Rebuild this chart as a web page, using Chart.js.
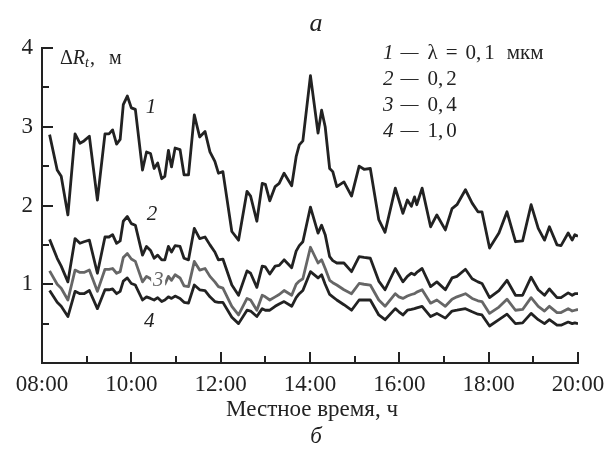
<!DOCTYPE html>
<html>
<head>
<meta charset="utf-8">
<script src="https://cdn.jsdelivr.net/npm/chart.js@4.4.0/dist/chart.umd.min.js"></script>
<style>
  body { margin: 0; background: #fff; }
  canvas { display: block; }
</style>
</head>
<body>
<canvas id="chart" width="614" height="456"></canvas>
<script>
// local time, decimal hours
const times = [
  8.17, 8.34, 8.43, 8.58, 8.74, 8.85, 8.94, 9.06, 9.24, 9.41,
  9.50, 9.58, 9.67, 9.75, 9.82, 9.91, 10.00, 10.09, 10.25, 10.34,
  10.43, 10.51, 10.59, 10.68, 10.75, 10.83, 10.90, 10.98, 11.09, 11.18,
  11.28, 11.41, 11.53, 11.65, 11.76, 11.87, 11.95, 12.05, 12.25, 12.40,
  12.59, 12.67, 12.81, 12.93, 13.00, 13.10, 13.22, 13.31, 13.42, 13.59,
  13.69, 13.76, 13.84, 14.01, 14.18, 14.26, 14.34, 14.44, 14.51, 14.60,
  14.76, 14.93, 15.10, 15.21, 15.35, 15.54, 15.68, 15.91, 15.99, 16.08,
  16.18, 16.27, 16.34, 16.39, 16.51, 16.70, 16.84, 17.03, 17.18, 17.29,
  17.48, 17.63, 17.76, 17.85, 18.02, 18.23, 18.41, 18.60, 18.76, 18.95,
  19.11, 19.25, 19.36, 19.53, 19.62, 19.78, 19.87, 19.93, 20.00
];

// ΔR_t, m  for λ = 0.1 µm
const dr01 = [
  2.90, 2.45, 2.37, 1.88, 2.91, 2.79, 2.82, 2.88, 2.07, 2.91,
  2.91, 2.96, 2.78, 2.84, 3.28, 3.39, 3.24, 3.22, 2.45, 2.68,
  2.66, 2.47, 2.54, 2.34, 2.37, 2.70, 2.49, 2.73, 2.71, 2.39,
  2.39, 3.15, 2.87, 2.94, 2.68, 2.56, 2.41, 2.43, 1.67, 1.56,
  2.18, 2.12, 1.80, 2.28, 2.27, 2.06, 2.24, 2.28, 2.41, 2.25,
  2.62, 2.77, 2.82, 3.65, 2.92, 3.21, 3.00, 2.47, 2.43, 2.24,
  2.30, 2.12, 2.50, 2.46, 2.47, 1.82, 1.66, 2.22, 2.07, 1.90,
  2.07, 1.99, 2.11, 2.01, 2.22, 1.73, 1.88, 1.69, 1.96, 2.01,
  2.20, 2.03, 1.92, 1.92, 1.46, 1.65, 1.92, 1.54, 1.55, 2.01,
  1.71, 1.56, 1.73, 1.50, 1.49, 1.65, 1.56, 1.63, 1.61
];

// λ = 0.2 µm
const dr02 = [
  1.57, 1.33, 1.23, 1.03, 1.58, 1.52, 1.54, 1.56, 1.14, 1.60,
  1.60, 1.63, 1.52, 1.55, 1.80, 1.86, 1.77, 1.75, 1.37, 1.48,
  1.43, 1.33, 1.37, 1.31, 1.31, 1.48, 1.41, 1.49, 1.48, 1.33,
  1.31, 1.71, 1.58, 1.60, 1.50, 1.41, 1.31, 1.32, 0.99, 0.86,
  1.17, 1.14, 0.96, 1.23, 1.22, 1.13, 1.23, 1.24, 1.31, 1.21,
  1.42, 1.49, 1.54, 1.98, 1.65, 1.75, 1.63, 1.35, 1.30, 1.27,
  1.27, 1.16, 1.35, 1.34, 1.33, 1.04, 0.93, 1.20, 1.12, 1.03,
  1.10, 1.14, 1.12, 1.15, 1.20, 0.97, 1.03, 0.93, 1.08, 1.10,
  1.19, 1.07, 1.03, 1.01, 0.83, 0.92, 1.05, 0.86, 0.86, 1.09,
  0.93, 0.86, 0.94, 0.83, 0.83, 0.89, 0.86, 0.88, 0.88
];

// λ = 0.4 µm
const dr04 = [
  1.17, 1.00, 0.95, 0.80, 1.18, 1.15, 1.15, 1.18, 0.91, 1.19,
  1.19, 1.20, 1.14, 1.16, 1.34, 1.39, 1.32, 1.29, 1.03, 1.10,
  1.07, 1.01, 1.04, 0.99, 1.00, 1.10, 1.05, 1.12, 1.08, 0.98,
  0.97, 1.29, 1.18, 1.20, 1.10, 1.03, 0.97, 0.95, 0.72, 0.61,
  0.82, 0.80, 0.67, 0.86, 0.84, 0.80, 0.84, 0.87, 0.92, 0.86,
  1.00, 1.04, 1.07, 1.47, 1.27, 1.31, 1.20, 1.05, 1.02, 0.99,
  0.93, 0.88, 1.01, 1.00, 0.99, 0.80, 0.72, 0.88, 0.84, 0.82,
  0.85, 0.87, 0.88, 0.90, 0.93, 0.76, 0.80, 0.72, 0.81, 0.84,
  0.88, 0.82, 0.79, 0.78, 0.63, 0.71, 0.81, 0.67, 0.68, 0.83,
  0.72, 0.66, 0.72, 0.64, 0.64, 0.69, 0.66, 0.67, 0.68
];

// λ = 1.0 µm
const dr10 = [
  0.92, 0.77, 0.72, 0.59, 0.91, 0.88, 0.88, 0.92, 0.69, 0.93,
  0.93, 0.94, 0.88, 0.91, 1.04, 1.08, 1.01, 0.99, 0.80, 0.84,
  0.82, 0.80, 0.83, 0.78, 0.80, 0.84, 0.82, 0.85, 0.82, 0.77,
  0.76, 0.99, 0.93, 0.92, 0.84, 0.78, 0.77, 0.77, 0.58, 0.50,
  0.67, 0.66, 0.59, 0.69, 0.67, 0.67, 0.72, 0.75, 0.78, 0.72,
  0.83, 0.88, 0.92, 1.16, 1.08, 1.12, 1.00, 0.87, 0.84, 0.80,
  0.74, 0.67, 0.80, 0.80, 0.80, 0.61, 0.55, 0.69, 0.65, 0.61,
  0.67, 0.68, 0.69, 0.70, 0.72, 0.59, 0.63, 0.57, 0.66, 0.67,
  0.69, 0.65, 0.62, 0.61, 0.47, 0.55, 0.62, 0.50, 0.51, 0.63,
  0.55, 0.50, 0.55, 0.48, 0.48, 0.52, 0.50, 0.51, 0.50
];

const curveNames = ['1', '2', '3', '4'];
const legendValues = ['λ = 0,1 мкм', '0,2', '0,4', '1,0'];
// where the curve numbers sit, in data units (hours, metres)
const curveLabelAt = [[10.44, 3.24], [10.46, 1.88], [10.60, 1.05], [10.40, 0.53]];

const ink = '#222';
const grey = '#666';
const serif = "'Liberation Serif', 'Times New Roman', serif";
Chart.defaults.font.family = serif;

function pts(vals) {
  return times.map((t, i) => ({x: t, y: vals[i]}));
}

function line(vals, color) {
  return {
    data: pts(vals),
    borderColor: color,
    borderWidth: 2.8,
    borderJoinStyle: 'round',
    pointRadius: 0,
    tension: 0,
    fill: false
  };
}

function runs(ctx, x, y, parts) {
  parts.forEach(p => {
    ctx.font = p.font;
    ctx.fillText(p.t, x, y + (p.dy || 0));
    x += ctx.measureText(p.t).width + (p.gap || 0);
  });
}

const decor = {
  id: 'decor',
  afterDraw(chart) {
    const {ctx, chartArea: a, scales: {x, y}} = chart;
    ctx.save();

    // inward ticks: every hour, every 0.5 m
    ctx.fillStyle = ink;
    for (let h = 8; h <= 20; h += 1) {
      const px = Math.round(x.getPixelForValue(h));
      const len = h % 2 ? 7 : 11;
      ctx.fillRect(px - 1, a.bottom - len, 2, len);
    }
    for (let v = 0; v <= 4; v += 0.5) {
      const py = Math.round(y.getPixelForValue(v));
      const len = Number.isInteger(v) ? 11 : 7;
      ctx.fillRect(a.left, py - 1, len, 2);
    }

    ctx.textBaseline = 'middle';
    ctx.textAlign = 'center';
    const cx = (a.left + a.right) / 2;

    ctx.font = 'italic 26px ' + serif;
    ctx.fillText('а', cx + 6, 24);
    ctx.font = '23px ' + serif;
    ctx.fillText('Местное время, ч', cx + 2, 410);
    ctx.font = 'italic 23px ' + serif;
    ctx.fillText('б', cx + 6, 437);

    // curve numbers
    ctx.font = 'italic 21px ' + serif;
    curveLabelAt.forEach((p, i) => {
      const px = x.getPixelForValue(p[0]);
      const py = y.getPixelForValue(p[1]);
      if (i === 2) {
        ctx.fillStyle = '#fff';
        ctx.fillRect(px - 7, py - 8, 14, 16);
      }
      ctx.fillStyle = i === 2 ? grey : ink;
      ctx.fillText(curveNames[i], px, py);
    });

    ctx.textAlign = 'left';
    ctx.fillStyle = ink;
    // y label
    runs(ctx, a.left + 18, 59, [
      {t: 'Δ', font: '20px ' + serif},
      {t: 'R', font: 'italic 20px ' + serif},
      {t: 't', font: 'italic 14px ' + serif, dy: 4, gap: 1},
      {t: ',', font: '20px ' + serif, gap: 14},
      {t: 'м', font: '20px ' + serif}
    ]);

    // legend
    legendValues.forEach((v, i) => {
      const parts = [
        {t: curveNames[i], font: 'italic 21px ' + serif, gap: 7},
        {t: '—', font: '18px ' + serif, gap: 9}
      ];
      if (i === 0) {
        parts.push(
          {t: 'λ', font: '21px ' + serif, gap: 8},
          {t: '=', font: '21px ' + serif, gap: 8},
          {t: '0,', font: '21px ' + serif, gap: 3},
          {t: '1', font: '21px ' + serif, gap: 12},
          {t: 'мкм', font: '21px ' + serif}
        );
      } else {
        parts.push(
          {t: v.slice(0, 2), font: '21px ' + serif, gap: 3},
          {t: v.slice(2), font: '21px ' + serif}
        );
      }
      runs(ctx, 383, 53 + i * 26, parts);
    });
    ctx.restore();
  }
};

new Chart(document.getElementById('chart'), {
  type: 'line',
  data: {
    datasets: [
      line(dr01, ink),
      line(dr02, ink),
      line(dr04, grey),
      line(dr10, ink)
    ]
  },
  options: {
    responsive: false,
    animation: false,
    layout: {padding: {top: 48, right: 36, left: 0, bottom: 0}},
    plugins: {legend: {display: false}, tooltip: {enabled: false}},
    scales: {
      x: {
        type: 'linear',
        min: 8,
        max: 20,
        afterFit: s => { s.height = 93; },
        grid: {drawOnChartArea: false, drawTicks: false},
        border: {color: ink, width: 2},
        ticks: {
          stepSize: 1,
          autoSkip: false,
          maxRotation: 0,
          padding: 8,
          color: ink,
          font: {family: serif, size: 23},
          callback: v => v % 2 ? '' : String(v).padStart(2, '0') + ':00'
        }
      },
      y: {
        min: 0,
        max: 4,
        afterFit: s => { s.width = 42; },
        grid: {drawOnChartArea: false, drawTicks: false},
        border: {color: ink, width: 2},
        ticks: {
          stepSize: 0.5,
          padding: 9,
          color: ink,
          font: {family: serif, size: 23},
          callback: v => Number.isInteger(v) && v > 0 ? String(v) : ''
        }
      }
    }
  },
  plugins: [decor]
});
</script>
</body>
</html>
